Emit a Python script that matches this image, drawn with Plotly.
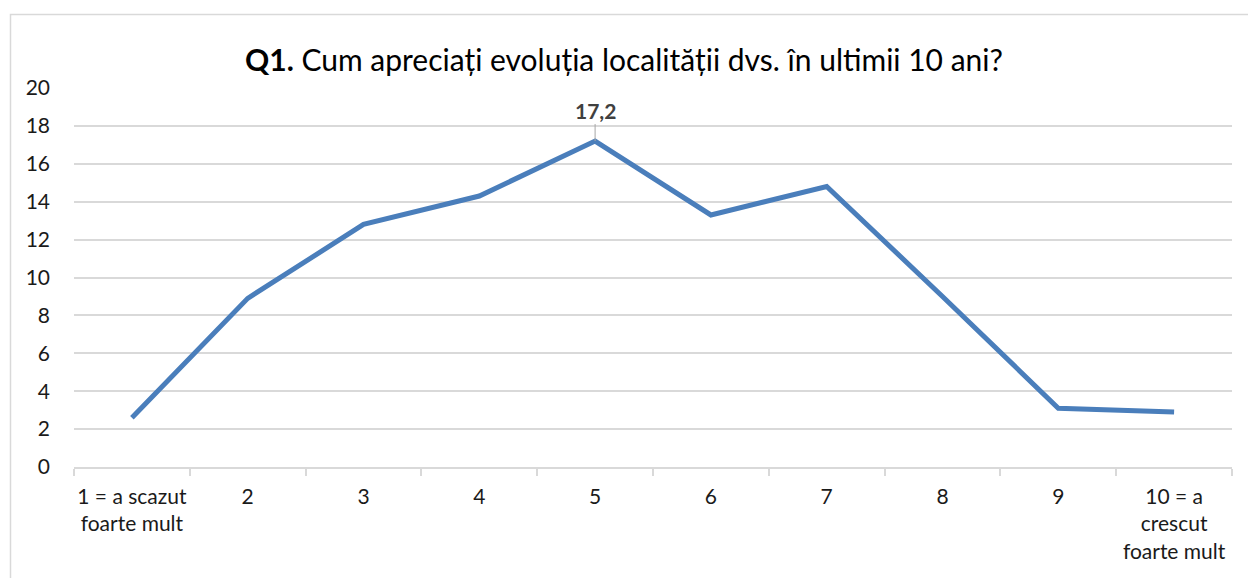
import plotly.graph_objects as go

categories = ["1 = a scazut<br>foarte mult", "2", "3", "4", "5", "6", "7", "8", "9",
              "10 = a<br>crescut<br>foarte mult"]
values = [2.6, 8.9, 12.8, 14.3, 17.2, 13.3, 14.8, 9.0, 3.1, 2.9]
y_ticks = [0, 2, 4, 6, 8, 10, 12, 14, 16, 18, 20]
title_text = "<b>Q1.</b> Cum apreciați evoluția localității dvs. în ultimii 10 ani?"
label_index = 4
label_text = "17,2"

FONT = "Lato, 'Open Sans', sans-serif"
TXT = "#1a1a1a"

fig = go.Figure()
fig.add_trace(go.Scatter(
    x=list(range(len(categories))), y=values, mode="lines",
    line=dict(color="#4a7ebb", width=5),
    hoverinfo="y", showlegend=False,
))

fig.add_annotation(
    x=label_index, y=values[label_index], xref="x", yref="y",
    text="<b>" + label_text + "</b>", showarrow=True, arrowhead=0, arrowwidth=1,
    arrowcolor="#a6a6a6", ax=0, ay=-31, standoff=0,
    font=dict(family=FONT, size=21, color="#404040"),
)

# outer chart border
fig.add_shape(type="rect", xref="paper", yref="paper",
              x0=(10.5 - 74) / 1158, x1=1.2, y0=-0.6, y1=(467 - 14.5) / 379,
              line=dict(color="#d9d9d9", width=1.5), fillcolor="rgba(0,0,0,0)", layer="below")

fig.update_layout(
    width=1248, height=578,
    margin=dict(l=74, r=16, t=88, b=111),
    paper_bgcolor="white", plot_bgcolor="white",
    title=dict(text=title_text, x=0.5, xanchor="center", y=1 - 60 / 578, yanchor="middle",
               font=dict(family=FONT, size=30, color="#000000")),
    font=dict(family=FONT, size=21, color=TXT),
    xaxis=dict(
        showgrid=False, showline=True, linecolor="#d9d9d9", linewidth=1.5,
        tickmode="array", tickvals=list(range(len(categories))), ticktext=categories,
        ticks="", tickfont=dict(family=FONT, size=21, color=TXT), ticklabelstandoff=10,
        range=[-0.5, len(categories) - 0.5], zeroline=False, fixedrange=True,
        minor=dict(tickmode="array", tickvals=[i - 0.5 for i in range(len(categories) + 1)],
                   ticks="outside", ticklen=7, tickcolor="#d9d9d9", tickwidth=1.5, showgrid=False),
    ),
    yaxis=dict(
        range=[0, 20], tickvals=y_ticks, showgrid=True, gridcolor="#d9d9d9", gridwidth=1.5,
        zeroline=False, showline=False, ticks="",
        tickfont=dict(family=FONT, size=21, color=TXT), ticklabelstandoff=23,
        fixedrange=True,
    ),
)

fig.write_html("out.html", config={"displayModeBar": False},
               post_script="document.body.style.margin='0';")
